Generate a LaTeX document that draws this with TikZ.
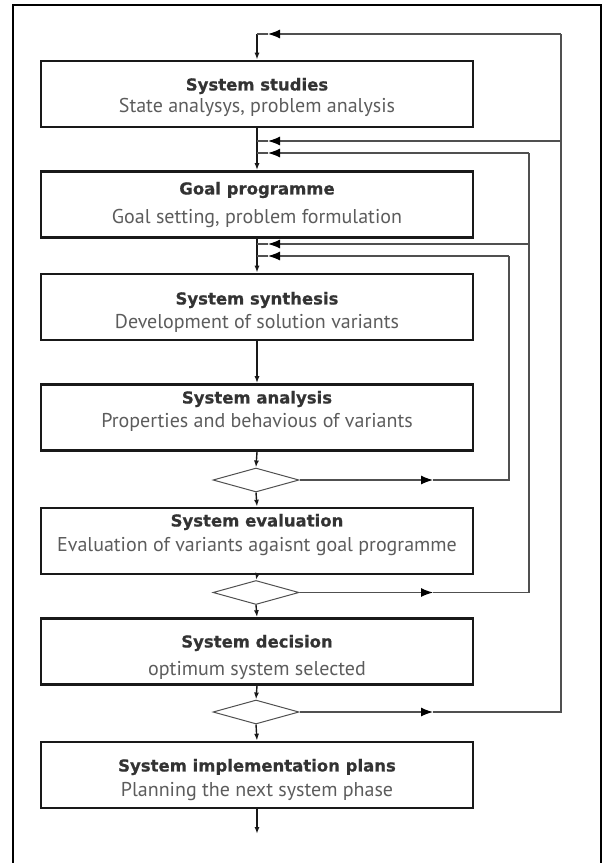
\documentclass[tikz,border=0pt]{standalone}
\usepackage{fontspec}
\setmainfont{DejaVu Sans}[BoldFeatures={FakeBold=0.6}]
\newfontfamily\subfont{PT Sans}
\usetikzlibrary{arrows.meta,shapes.geometric}
\definecolor{ttlc}{HTML}{333333}
\definecolor{subc}{HTML}{5C5C5C}
\definecolor{fbc}{HTML}{505050}
\begin{document}
\begin{tikzpicture}[x=1pt,y=-1pt,
  boxst/.style={draw=black!90,line width=2.6pt,rectangle,minimum width=432pt,minimum height=66pt,inner sep=0pt},
  dia/.style={draw=fbc,line width=1pt,diamond,minimum width=86pt,minimum height=24pt,inner sep=0pt},
  ttl/.style={font=\fontsize{16.5}{20}\selectfont\bfseries,text=ttlc,inner sep=0pt},
  sub/.style={font=\subfont\fontsize{20}{24}\selectfont,text=subc,inner sep=0pt},
  stem/.style={line width=1.4pt,draw=black!90,-{Latex[length=7pt,width=5pt]}},
  stemline/.style={line width=1.4pt,draw=black!90},
  fb/.style={line width=1.2pt,draw=fbc},
  fbarr/.style={line width=1.2pt,draw=fbc,-{Latex[length=12pt,width=9pt,fill=black,color=black]}},
]
\useasboundingbox (0,0) rectangle (603,863);
% frame
\draw[line width=2.6pt] (13,863) -- (13,5) -- (601,5) -- (601,863);

% boxes
\node[boxst] (b1) at (257,94) {};
\node[boxst] (b2) at (257,204.5) {};
\node[boxst] (b3) at (257,307) {};
\node[boxst] (b4) at (257,417.5) {};
\node[boxst] (b5) at (257,541) {};
\node[boxst] (b6) at (257,651.5) {};
\node[boxst] (b7) at (257,775) {};

% texts
\node[ttl] (t1) at (257,86) {System studies};
\node[sub] (s1) at (257,107) {State analysys, problem analysis};
\node[ttl] (t2) at (257,190) {Goal programme};
\node[sub] (s2) at (257,218) {Goal setting, problem formulation};
\node[ttl] (t3) at (257,300) {System synthesis};
\node[sub] (s3) at (257,323) {Development of solution variants};
\node[ttl] (t4) at (257,399) {System analysis};
\node[sub] (s4) at (257,422) {Properties and behavious of variants};
\node[ttl] (t5) at (257,522) {System evaluation};
\node[sub] (s5) at (257,547) {Evaluation of variants agaisnt goal programme};
\node[ttl] (t6) at (257,643) {System decision};
\node[sub] (s6) at (257,670) {optimum system selected};
\node[ttl] (t7) at (257,767) {System implementation plans};
\node[sub] (s7) at (257,792) {Planning the next system phase};

% diamonds
\node[dia] (d1) at (256,480) {};
\node[dia] (d2) at (256,592.5) {};
\node[dia] (d3) at (256,712) {};

% junction coordinates on the stem
\coordinate (j0) at (257,34);
\coordinate (j1) at (257,141);
\coordinate (j2) at (257,153);
\coordinate (j3) at (257,244);
\coordinate (j4) at (257,256);
\coordinate (endc) at (257,834);

% arrowhead positions
\coordinate (h0) at (268,34);
\coordinate (h1) at (268,141);
\coordinate (h2) at (268,153);
\coordinate (h3) at (268,244);
\coordinate (h4) at (268,256);
\coordinate (r1) at (433,480);
\coordinate (r2) at (433,592.5);
\coordinate (r3) at (433,712);

% right-hand corners
\coordinate (c1) at (509,480);
\coordinate (c2) at (529,592.5);
\coordinate (c3) at (561,712);
\coordinate (v1) at (509,256);
\coordinate (v2a) at (529,244);
\coordinate (v2b) at (529,153);
\coordinate (v3a) at (561,141);
\coordinate (v3b) at (561,34);

% main stem
\draw[stem] (j0) -- (b1.north);
\draw[stemline] (b1.south) -- (j2);
\draw[stem] (j2) -- (b2.north);
\draw[stemline] (b2.south) -- (j4);
\draw[stem] (j4) -- (b3.north);
\draw[stem] (b3.south) -- (b4.north);
\draw[stem] (b4.south) -- (d1.north);
\draw[stem] (d1.south) -- (b5.north);
\draw[stem] (b5.south) -- (d2.north);
\draw[stem] (d2.south) -- (b6.north);
\draw[stem] (b6.south) -- (d3.north);
\draw[stem] (d3.south) -- (b7.north);
\draw[stem] (b7.south) -- (endc);

% feedback from diamond 1
\draw[fbarr] (d1.east) -- (r1);
\draw[fb] (r1) -- (c1) -- (v1);
\draw[fbarr] (v1) -- (h4);
\draw[fb] (h4) -- (j4);

% feedback from diamond 2
\draw[fbarr] (d2.east) -- (r2);
\draw[fb] (r2) -- (c2) -- (v2b);
\draw[fbarr] (v2a) -- (h3);
\draw[fb] (h3) -- (j3);
\draw[fbarr] (v2b) -- (h2);
\draw[fb] (h2) -- (j2);

% feedback from diamond 3
\draw[fbarr] (d3.east) -- (r3);
\draw[fb] (r3) -- (c3) -- (v3b);
\draw[fbarr] (v3a) -- (h1);
\draw[fb] (h1) -- (j1);
\draw[fbarr] (v3b) -- (h0);
\draw[fb] (h0) -- (j0);
\end{tikzpicture}
\end{document}
